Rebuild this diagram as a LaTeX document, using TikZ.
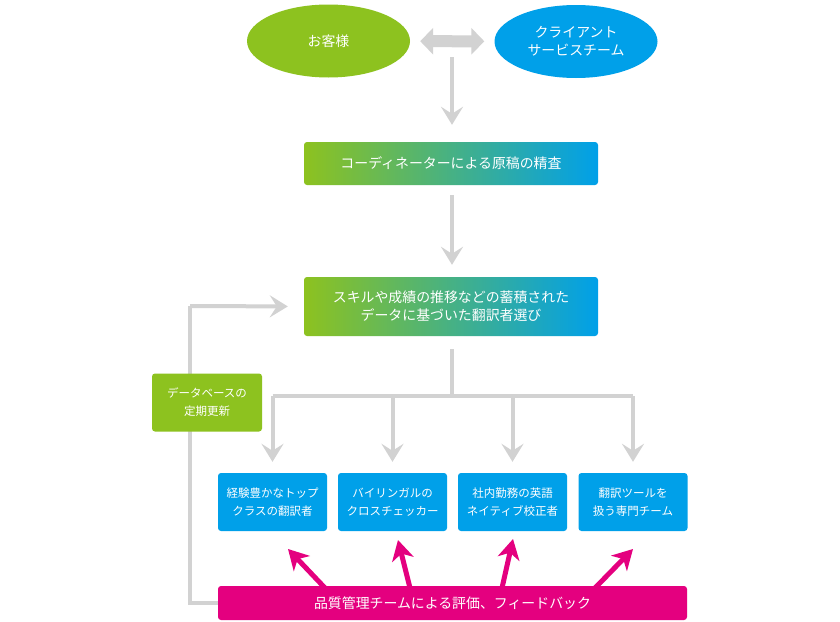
\documentclass[tikz,border=0pt]{standalone}
\usepackage{fontspec}
\setmainfont{Noto Sans CJK JP}
\usetikzlibrary{arrows.meta,shapes.geometric,calc}
\definecolor{cgreen}{HTML}{8DC21F}
\definecolor{cblue}{HTML}{00A0E9}
\definecolor{cmag}{HTML}{E4007F}
\definecolor{cgray}{HTML}{D2D2D2}
\begin{document}
\begin{tikzpicture}[x=1pt,y=-1pt,
  txt/.style={text=white, align=center, inner sep=0pt, font=\fontsize{13.9}{18}\selectfont},
  smalltxt/.style={text=white, align=center, inner sep=0pt, font=\fontsize{11.5}{18}\selectfont},
  oval/.style={ellipse, txt, minimum width=163pt, minimum height=73pt},
  gradbox/.style={txt, rounded corners=3pt, left color=cgreen, right color=cblue, minimum width=294pt},
  bluebox/.style={smalltxt, rounded corners=3pt, fill=cblue, minimum width=109pt, minimum height=58pt},
  greenbox/.style={smalltxt, rounded corners=3pt, fill=cgreen, minimum width=110pt, minimum height=58pt},
  magbar/.style={txt, rounded corners=3pt, fill=cmag, minimum width=469pt, minimum height=34pt},
  garrow/.style={draw=cgray, line width=4pt, -{Stealth[length=18pt,width=22pt,inset=7pt]}},
  gline/.style={draw=cgray, line width=4pt},
  marrow/.style={draw=cmag, line width=5pt, -{Stealth[length=20pt,width=22pt,inset=6pt]}},
  dblarrow/.style={draw=cgray, line width=12pt, {Triangle[length=13pt,width=26pt]}-{Triangle[length=13pt,width=26pt]}}
]
\useasboundingbox (0,0) rectangle (840,621);
\fill[white] (0,0) rectangle (840,621);

% top ellipses
\node[oval, fill=cgreen] (cust) at (328.5,41) {お客様};
\node[oval, fill=cblue] (cst) at (576,41.5) {クライアント\\サービスチーム};
\draw[dblarrow, shorten <=10pt, shorten >=10pt] (cust) -- (cst);

% main boxes
\node[gradbox, minimum height=43pt] (coord) at (451,163.5) {コーディネーターによる原稿の精査};
\node[gradbox, minimum height=59pt] (sel) at (451,306.5) {スキルや成績の推移などの蓄積された\\データに基づいた翻訳者選び};

\coordinate (topstem) at (452,57);
\draw[garrow, shorten >=17pt] (topstem) -- (topstem |- coord.north);
\draw[garrow, shorten <=10pt, shorten >=12pt] (coord.south -| 452,0) -- (sel.north -| 452,0);

% branch
\coordinate (hub) at (452,396);
\draw[gline, shorten <=13pt] (sel.south -| hub) -- ([yshift=-2pt]hub);

% bottom boxes
\node[bluebox] (b1) at (272.5,502) {経験豊かなトップ\\クラスの翻訳者};
\node[bluebox] (b2) at (392.5,502) {バイリンガルの\\クロスチェッカー};
\node[bluebox] (b3) at (512.5,502) {社内勤務の英語\\ネイティブ校正者};
\node[bluebox] (b4) at (633,502) {翻訳ツールを\\扱う専門チーム};

\draw[gline] (b1.north |- hub) -- (b4.north |- hub);
\foreach \b in {b1,b2,b3,b4}{
  \draw[garrow, shorten >=11pt] (\b.north |- hub) -- (\b.north);
}

% bottom bar
\node[magbar] (bar) at (452.5,603) {品質管理チームによる評価、フィードバック};

% feedback loop
\coordinate (loopB) at (190,603);
\coordinate (loopT) at (190,306);
\draw[gline] (bar.west) -- (loopB) -- (loopT);
\draw[garrow, shorten >=16pt] (loopT) -- (sel.west);

% database box (over the loop line)
\node[greenbox] (db) at (207,402.5) {データベースの\\定期更新};

% magenta arrows
\coordinate (m1s) at (325,588); \coordinate (m1e) at (288,549);
\coordinate (m2s) at (410,588); \coordinate (m2e) at (398,540);
\coordinate (m3s) at (502,588); \coordinate (m3e) at (513,539);
\coordinate (m4s) at (595,588); \coordinate (m4e) at (633,549);
\draw[marrow] (m1s) -- (m1e);
\draw[marrow] (m2s) -- (m2e);
\draw[marrow] (m3s) -- (m3e);
\draw[marrow] (m4s) -- (m4e);
\end{tikzpicture}
\end{document}
